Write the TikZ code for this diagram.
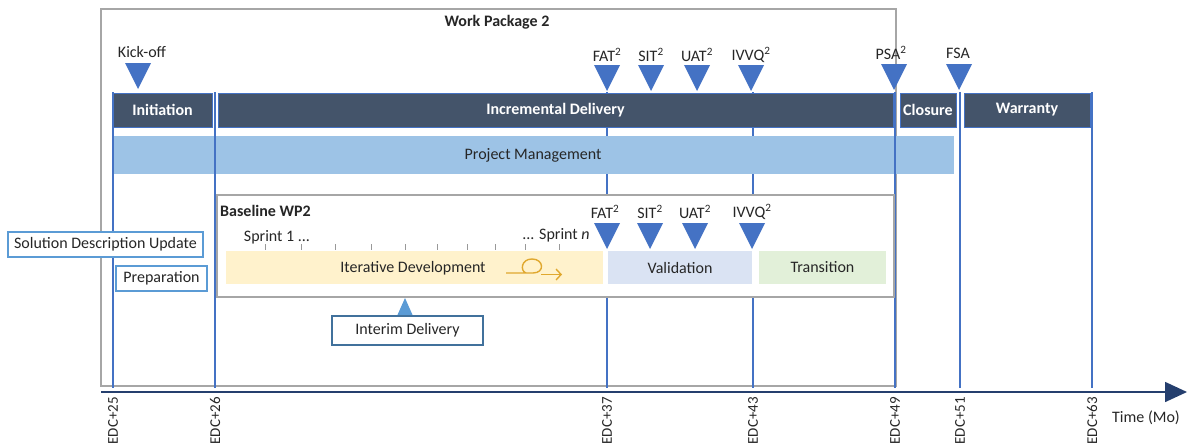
\documentclass[tikz,border=0pt]{standalone}
\usepackage{fontspec}
\setmainfont{Carlito}
\usetikzlibrary{arrows.meta}

\definecolor{slate}{HTML}{44546A}
\definecolor{mblue}{HTML}{4472C4}
\definecolor{pmblue}{HTML}{9DC3E6}
\definecolor{devyel}{HTML}{FFF2CC}
\definecolor{valblue}{HTML}{DAE3F3}
\definecolor{trgreen}{HTML}{E2F0D9}
\definecolor{boxgray}{HTML}{A6A6A6}
\definecolor{axisnavy}{HTML}{253F6E}
\definecolor{loopgold}{HTML}{E0A82E}
\definecolor{lblborder}{HTML}{5B9BD5}
\definecolor{intborder}{HTML}{41719C}
\definecolor{txt}{HTML}{262626}

\tikzset{
  phase/.style={fill=slate, draw=mblue, line width=0.6pt, text=white,
    font=\fontsize{16}{19}\selectfont\bfseries, minimum height=34pt, inner sep=0pt},
  band/.style={inner sep=0pt, text=txt, minimum height=33pt},
  frame/.style={draw=boxgray, line width=1.3pt},
  marker/.style={draw=mblue, line width=2.2pt},
  lbl/.style={text=txt, inner sep=1pt},
  tagbox/.style={draw=lblborder, line width=1.2pt, fill=white, text=txt,
    minimum height=25pt, inner sep=0pt},
  axlbl/.style={text=txt, rotate=90, anchor=east, inner sep=0pt,
    font=\fontsize{15}{17}\selectfont},
  tick/.style={draw=gray!80, line width=0.6pt},
  ms/.pic={\fill[mblue] (-13,0) -- (13,0) -- (0,26) -- cycle;},
  msup/.pic={\fill[lblborder] (-8,0) -- (8,0) -- (0,-18) -- cycle;}
}

\begin{document}
\begin{tikzpicture}[x=1pt, y=-1pt, font=\fontsize{16}{19}\selectfont]
\useasboundingbox (0,0) rectangle (1188,447);

% Work package frame and title
\draw[frame] (101,9) rectangle (896,386);
\node[lbl, font=\fontsize{16}{19}\selectfont\bfseries] (wp) at (497,22) {Work Package 2};

% Timeline markers (top and bottom ends)
\foreach \n/\x in {m25/113, m26/215, m37/607, m43/753, m49/895, m51/960, m63/1092}{
  \coordinate (\n-t) at (\x,92);
  \coordinate (\n-b) at (\x,388);
}
% markers for FAT and IVVQ run behind the management band
\foreach \n in {m37, m43}{
  \draw[marker] (\n-t) -- (\n-b);
}

% Project management band
\node[fill=pmblue, band, minimum width=842pt, minimum height=38pt] (pm) at (533,155) {Project Management};

\foreach \n in {m25, m26, m49, m51, m63}{
  \draw[marker] (\n-t) -- (\n-b);
}

% Phase bars
\node[phase, minimum width=99pt]  (init)  at (162.5,110) {Initiation};
\node[phase, minimum width=675pt] (incr)  at (555.5,110) {Incremental Delivery};
\node[phase, minimum width=56pt]  (clos)  at (928,110)   {Closure};
\node[phase, minimum width=126pt] (warr)  at (1027,110)  {Warranty};

% Top milestones
\pic at (138,63) {ms};  \node[lbl] (kick) at (142,52) {Kick-off};
\pic at (607,65) {ms};  \node[lbl] (fat1) at (607,55) {FAT\textsuperscript{2}};
\pic at (651,65) {ms};  \node[lbl] (sit1) at (651,55) {SIT\textsuperscript{2}};
\pic at (697,65) {ms};  \node[lbl] (uat1) at (697,55) {UAT\textsuperscript{2}};
\pic at (751,65) {ms};  \node[lbl] (ivv1) at (751,55) {IVVQ\textsuperscript{2}};
\pic at (894,64) {ms};  \node[lbl] (psa)  at (891,53) {PSA\textsuperscript{2}};
\pic at (959,64) {ms};  \node[lbl] (fsa)  at (958,53) {FSA};

% Baseline WP2 box
\node[frame, fill=white, minimum width=677pt, minimum height=102pt, inner sep=0pt] (base) at (555.5,246) {};
\node[lbl, anchor=west, font=\fontsize{16}{19}\selectfont\bfseries] (basettl) at (219,211) {Baseline WP2};

% Sprint ticks and labels
\foreach \x in {265,301,335,371,405,437,467,495,525,559}{
  \draw[tick] (\x,244) -- (\x,250);
}
\node[lbl] (spr1) at (277,237) {Sprint 1 ...};
\node[lbl] (sprn) at (556,235) {... Sprint \textit{n}};

% Work streams inside the baseline
\node[fill=devyel,  band, minimum width=377pt] (dev)   at (414.5,267.5) {};
\node[lbl] (devtxt) at (413,268) {Iterative Development};
\node[fill=valblue, band, minimum width=144pt] (valid) at (680,267.5) {Validation};
\node[fill=trgreen, band, minimum width=127pt] (trans) at (822.5,267.5) {Transition};

% Iteration icon: line with a loop, then an arrow
\draw[loopgold, line width=1.4pt]
  (506,273) -- (533,273) .. controls (545,273) and (544,259) .. (532,259)
  .. controls (521,259) and (520,271) .. (526,273);
\draw[loopgold, line width=1.4pt, -{Straight Barb[length=5pt,width=11pt]}]
  (541,274.5) -- (562,274.5);

% Baseline milestones
\pic at (607,223) {ms}; \node[lbl] (fat2) at (605,212) {FAT\textsuperscript{2}};
\pic at (650,223) {ms}; \node[lbl] (sit2) at (650,212) {SIT\textsuperscript{2}};
\pic at (695,223) {ms}; \node[lbl] (uat2) at (695,212) {UAT\textsuperscript{2}};
\pic at (752,223) {ms}; \node[lbl] (ivv2) at (752,212) {IVVQ\textsuperscript{2}};

% Side tags
\node[tagbox, minimum width=195pt] (sdu)  at (105.5,244.5) {Solution Description Update};
\node[tagbox, minimum width=91pt]  (prep) at (161.5,278.5) {Preparation};

% Interim delivery
\pic at (405,316) {msup};
\node[tagbox, draw=intborder, minimum width=151pt, minimum height=29pt] (intd) at (407.5,330.5) {Interim Delivery};

% Time axis
\coordinate (ax0) at (101,392);
\coordinate (ax1) at (1187,392);
\draw[axisnavy, line width=1.6pt, -{Triangle[length=22pt,width=20pt]}] (ax0) -- (ax1);
\node[lbl] (tm) at (1146,418) {Time (Mo)};

% Axis labels
\node[axlbl] (l25) at (113,397)  {EDC+25};
\node[axlbl] (l26) at (215,397)  {EDC+26};
\node[axlbl] (l37) at (607,397)  {EDC+37};
\node[axlbl] (l43) at (753,397)  {EDC+43};
\node[axlbl] (l49) at (895,397)  {EDC+49};
\node[axlbl] (l51) at (960,397)  {EDC+51};
\node[axlbl] (l63) at (1092,397) {EDC+63};
\end{tikzpicture}
\end{document}
